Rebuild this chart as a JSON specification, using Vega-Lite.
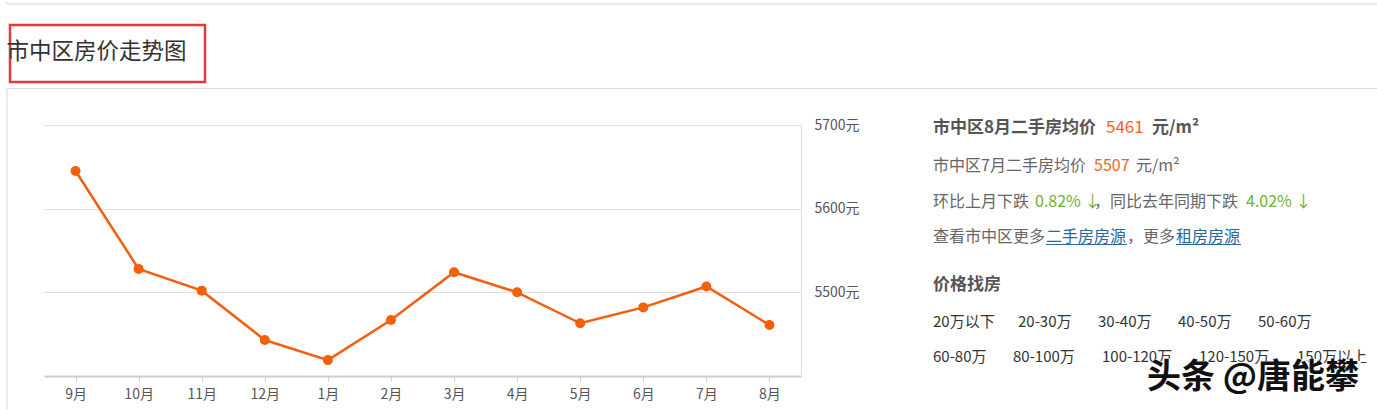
{
  "$schema": "https://vega.github.io/schema/vega-lite/v6.json",
  "padding": {"left": 5, "top": 0, "right": 0, "bottom": 0},
  "autosize": {"type": "pad"},
  "background": "white",
  "config": {"view": {"stroke": null}, "font": "Noto Sans CJK SC"},
  "datasets": {
    "price": [
      {"month": "9月", "price": 5645},
      {"month": "10月", "price": 5528},
      {"month": "11月", "price": 5502},
      {"month": "12月", "price": 5443},
      {"month": "1月", "price": 5419},
      {"month": "2月", "price": 5467},
      {"month": "3月", "price": 5524},
      {"month": "4月", "price": 5500},
      {"month": "5月", "price": 5463},
      {"month": "6月", "price": 5482},
      {"month": "7月", "price": 5507},
      {"month": "8月", "price": 5461}
    ],
    "info": [
      {"kind": "head", "text": "市中区8月二手房均价", "x": 99, "y": 3.3},
      {"kind": "headnum", "text": "5461", "x": 272, "y": 3.3},
      {"kind": "head", "text": "元/m²", "x": 318, "y": 3.3},
      {"kind": "body", "text": "市中区7月二手房均价", "x": 99, "y": 41},
      {"kind": "num", "text": "5507", "x": 260, "y": 41},
      {"kind": "body", "text": "元/m²", "x": 302, "y": 41},
      {"kind": "body", "text": "环比上月下跌", "x": 99, "y": 76.7},
      {"kind": "pct", "text": "0.82% ↓", "x": 201, "y": 76.7},
      {"kind": "body", "text": "，同比去年同期下跌", "x": 260, "y": 76.7},
      {"kind": "pct", "text": "4.02% ↓", "x": 412, "y": 76.7},
      {"kind": "body", "text": "查看市中区更多", "x": 99, "y": 111.7},
      {"kind": "link", "text": "二手房房源", "x": 212, "y": 111.7},
      {"kind": "body", "text": "，更多", "x": 293, "y": 111.7},
      {"kind": "link", "text": "租房房源", "x": 342, "y": 111.7},
      {"kind": "head", "text": "价格找房", "x": 99, "y": 160},
      {"kind": "range", "text": "20万以下", "x": 99, "y": 196.7},
      {"kind": "range", "text": "20-30万", "x": 184, "y": 196.7},
      {"kind": "range", "text": "30-40万", "x": 264, "y": 196.7},
      {"kind": "range", "text": "40-50万", "x": 344, "y": 196.7},
      {"kind": "range", "text": "50-60万", "x": 424, "y": 196.7},
      {"kind": "range", "text": "60-80万", "x": 99, "y": 231.7},
      {"kind": "range", "text": "80-100万", "x": 179, "y": 231.7},
      {"kind": "range", "text": "100-120万", "x": 268, "y": 231.7},
      {"kind": "range", "text": "120-150万", "x": 365, "y": 231.7},
      {"kind": "range", "text": "150万以上", "x": 463, "y": 231.7},
      {"kind": "mark", "text": "头条 @唐能攀", "x": 313, "y": 253}
    ],
    "underline": [
      {"x": 212, "x2": 293, "y": 119.5},
      {"x": 342, "x2": 407, "y": 119.5}
    ],
    "card": [
      {"part": "top-left", "x": -3, "x2": -3, "y": -23, "y2": -21},
      {"part": "top", "x": -3, "x2": 1367, "y": -21, "y2": -21},
      {"part": "card-top", "x": -3, "x2": 1367, "y": 63.5, "y2": 63.5},
      {"part": "card-left", "x": -3, "x2": -3, "y": 63.5, "y2": 385}
    ]
  },
  "bounds": "flush",
  "spacing": 43,
  "vconcat": [
    {
      "width": 195,
      "height": 57,
      "view": {"stroke": "#e23b3b", "strokeWidth": 2.5},
      "layer": [
        {
          "data": {"name": "card"},
          "mark": {"type": "rule", "color": "#d9d9d9", "strokeWidth": 1},
          "encoding": {
            "x": {"field": "x", "type": "quantitative", "scale": {"domain": [0, 195], "nice": false, "zero": false}, "axis": null},
            "x2": {"field": "x2"},
            "y": {"field": "y", "type": "quantitative", "scale": {"domain": [0, 57], "reverse": true, "nice": false, "zero": false}, "axis": null},
            "y2": {"field": "y2"}
          }
        },
        {
          "data": {"values": [{"label": "市中区房价走势图"}]},
          "mark": {"type": "text", "align": "center", "baseline": "middle", "fontSize": 22.5, "color": "#333333", "dx": -11, "dy": -1.5},
          "encoding": {"text": {"field": "label"}}
        }
      ]
    },
    {
      "bounds": "flush",
      "spacing": 33,
      "hconcat": [
        {
          "width": 1,
          "height": 251,
          "data": {"values": []},
          "mark": "text",
          "encoding": {}
        },
        {
          "width": 757,
          "height": 251,
          "data": {"name": "price"},
          "encoding": {
            "x": {
              "field": "month", "type": "ordinal", "sort": null,
              "scale": {"type": "point", "padding": 0.5},
              "axis": {"title": null, "labelAngle": 0, "labelColor": "#555555", "labelFontSize": 14, "labelPadding": 6, "domainColor": "#cccccc", "domainWidth": 2, "tickColor": "#cccccc", "tickSize": 5, "grid": false}
            },
            "y": {
              "field": "price", "type": "quantitative",
              "scale": {"domain": [5400, 5700], "zero": false, "nice": false},
              "axis": {"orient": "right", "title": null, "values": [5500, 5600, 5700], "labelExpr": "datum.value + '元'", "labelColor": "#555555", "labelFontSize": 14, "labelPadding": 13, "ticks": false, "domainColor": "#dddddd", "domainWidth": 1, "grid": true, "gridColor": "#e0e0e0", "gridWidth": 1}
            }
          },
          "layer": [
            {"mark": {"type": "line", "color": "#f0600f", "strokeWidth": 2.5}},
            {"mark": {"type": "point", "filled": true, "size": 100, "color": "#f55f0a", "opacity": 1}}
          ]
        },
        {
          "width": 543,
          "height": 285,
          "encoding": {
            "x": {"field": "x", "type": "quantitative", "scale": {"domain": [0, 543], "nice": false, "zero": false}, "axis": null},
            "y": {"field": "y", "type": "quantitative", "scale": {"domain": [0, 285], "reverse": true, "nice": false, "zero": false}, "axis": null}
          },
          "layer": [
            {
              "data": {"name": "underline"},
              "mark": {"type": "rule", "color": "#2b679c", "strokeWidth": 1},
              "encoding": {"x2": {"field": "x2"}}
            },
            {
              "data": {"name": "info"},
              "transform": [{"filter": "datum.kind === 'head'"}],
              "mark": {"type": "text", "align": "left", "baseline": "middle", "fontSize": 17, "fontWeight": "bold", "color": "#555555"},
              "encoding": {"text": {"field": "text"}}
            },
            {
              "data": {"name": "info"},
              "transform": [{"filter": "datum.kind === 'headnum'"}],
              "mark": {"type": "text", "align": "left", "baseline": "middle", "fontSize": 17, "color": "#f26522"},
              "encoding": {"text": {"field": "text"}}
            },
            {
              "data": {"name": "info"},
              "transform": [{"filter": "datum.kind === 'body'"}],
              "mark": {"type": "text", "align": "left", "baseline": "middle", "fontSize": 16, "color": "#666666"},
              "encoding": {"text": {"field": "text"}}
            },
            {
              "data": {"name": "info"},
              "transform": [{"filter": "datum.kind === 'num'"}],
              "mark": {"type": "text", "align": "left", "baseline": "middle", "fontSize": 16, "color": "#f26522"},
              "encoding": {"text": {"field": "text"}}
            },
            {
              "data": {"name": "info"},
              "transform": [{"filter": "datum.kind === 'pct'"}],
              "mark": {"type": "text", "align": "left", "baseline": "middle", "fontSize": 16, "color": "#72b036"},
              "encoding": {"text": {"field": "text"}}
            },
            {
              "data": {"name": "info"},
              "transform": [{"filter": "datum.kind === 'link'"}],
              "mark": {"type": "text", "align": "left", "baseline": "middle", "fontSize": 16, "color": "#2b679c"},
              "encoding": {"text": {"field": "text"}}
            },
            {
              "data": {"name": "info"},
              "transform": [{"filter": "datum.kind === 'range'"}],
              "mark": {"type": "text", "align": "left", "baseline": "middle", "fontSize": 15, "color": "#333333"},
              "encoding": {"text": {"field": "text"}}
            },
            {
              "data": {"name": "info"},
              "transform": [{"filter": "datum.kind === 'mark'"}],
              "mark": {"type": "text", "align": "left", "baseline": "middle", "fontSize": 34, "fontWeight": "bold", "color": "#000000", "stroke": "#ffffff", "strokeWidth": 4, "dx": 1.5, "dy": 1.5},
              "encoding": {"text": {"field": "text"}}
            },
            {
              "data": {"name": "info"},
              "transform": [{"filter": "datum.kind === 'mark'"}],
              "mark": {"type": "text", "align": "left", "baseline": "middle", "fontSize": 34, "fontWeight": "bold", "color": "#111111"},
              "encoding": {"text": {"field": "text"}}
            }
          ]
        }
      ]
    }
  ]
}
